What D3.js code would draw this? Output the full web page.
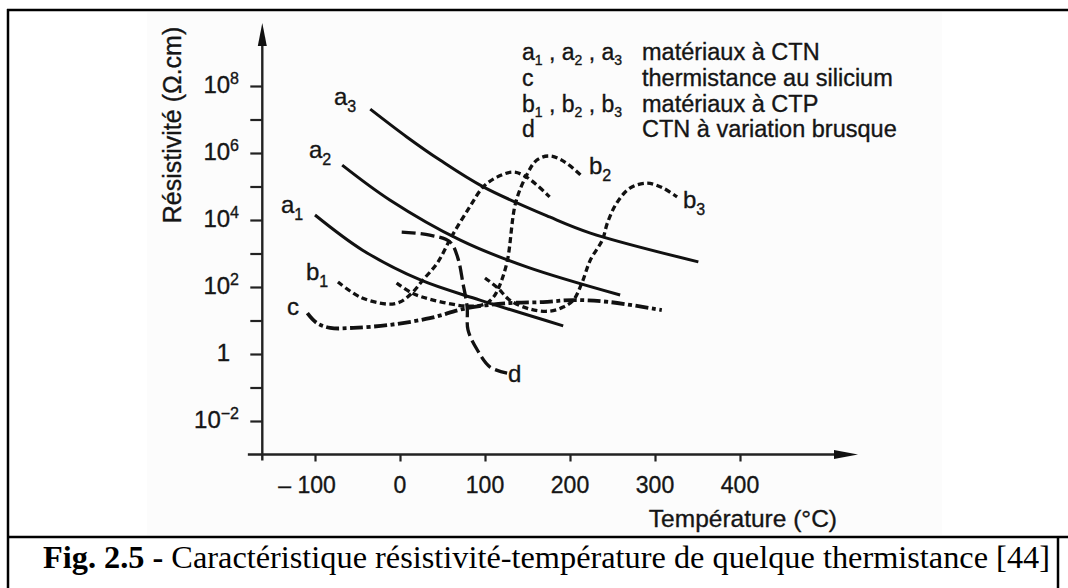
<!DOCTYPE html>
<html>
<head>
<meta charset="utf-8">
<script src="https://cdn.jsdelivr.net/npm/d3@7"></script>
<style>
  body { margin: 0; background: #fff; }
  svg { display: block; }
  .sans { font-family: "Liberation Sans", Arial, Helvetica, sans-serif; fill: #151515; stroke: #151515; stroke-width: 0.35px; }
</style>
</head>
<body>
<div class="chart"></div>
<script>
// ticks
var xTicks = [-100, 0, 100, 200, 300, 400];
var xTickLabels = ["\u2013 100", "0", "100", "200", "300", "400"];
var yDecades = [-2, -1, 0, 1, 2, 3, 4, 5, 6, 7, 8];
var yLabelled = [-2, 0, 2, 4, 6, 8];

// curves: temperature (°C) and log10 of resistivity (Ω.cm)
var tA1 = [-100, -44, 24, 94, 192];
var rA1 = [4.15, 3.10, 2.21, 1.61, 0.84];
var tA2 = [-68, -12, 71, 149, 259];
var rA2 = [5.64, 4.60, 3.40, 2.60, 1.76];
var tA3 = [-35, 8, 47, 98, 176, 224, 351];
var rA3 = [7.31, 6.48, 5.79, 4.99, 4.09, 3.61, 2.75];

var tB1 = [-73, -47, -15, 0, 14, 27, 44, 61, 82, 98, 114, 133, 149, 176];
var rB1 = [2.15, 1.70, 1.49, 1.55, 1.82, 2.21, 2.72, 3.52, 4.39, 4.99, 5.28, 5.43, 5.28, 4.69];
var tB2 = [-4, 14, 39, 79, 100, 110, 116, 126, 136, 149, 161, 176, 194, 215];
var rB2 = [2.12, 1.82, 1.61, 1.43, 1.49, 1.70, 1.97, 2.75, 4.51, 5.34, 5.79, 5.91, 5.73, 5.28];
var tB3 = [100, 115, 129, 153, 176, 192, 204, 214, 224, 238, 244, 255, 271, 291, 309, 326];
var rB3 = [2.27, 1.97, 1.61, 1.34, 1.28, 1.40, 1.61, 2.12, 2.81, 3.40, 3.91, 4.51, 4.96, 5.10, 4.96, 4.69];

var tC = [-109, -98, -82, -55, -12, 35, 79, 129, 168, 204, 247, 308];
var rC = [1.22, 0.93, 0.78, 0.78, 0.87, 1.07, 1.37, 1.52, 1.55, 1.61, 1.55, 1.31];
var tD = [2, 35, 59, 68, 74, 79, 80, 91, 106, 126];
var rD = [3.64, 3.55, 3.34, 2.87, 2.12, 1.40, 0.72, 0.12, -0.39, -0.57];

var width = 1068, height = 588;

var svg = d3.select("div.chart").append("svg")
    .attr("width", width)
    .attr("height", height);

// scanned picture background + table frame
svg.append("rect").attr("x", 147).attr("y", 12).attr("width", 795).attr("height", 523).attr("fill", "#fcfcfc");
svg.append("line").attr("x1", 7).attr("x2", 1068).attr("y1", 10).attr("y2", 10).attr("stroke", "#000").attr("stroke-width", 2.5);
svg.append("line").attr("x1", 8).attr("x2", 8).attr("y1", 9).attr("y2", 588).attr("stroke", "#000").attr("stroke-width", 2.5);
svg.append("line").attr("x1", 7).attr("x2", 1068).attr("y1", 537).attr("y2", 537).attr("stroke", "#000").attr("stroke-width", 2.5);
svg.append("line").attr("x1", 1058).attr("x2", 1058).attr("y1", 537).attr("y2", 588).attr("stroke", "#000").attr("stroke-width", 2.5);

// scales
var x = d3.scaleLinear().domain([-100, 400]).range([315, 740]);
var y = d3.scaleLog().domain([1e-2, 1e8]).range([421, 86]);

var axisX0 = x(-162), axisY0 = y(1e-3);

// y axis with ticks
var gy = svg.append("g")
    .attr("transform", "translate(" + axisX0 + ",0)")
    .call(d3.axisLeft(y).tickValues(yDecades.map(function (e) { return Math.pow(10, e); }))
        .tickSize(12).tickFormat(""));
gy.select(".domain").remove();
gy.selectAll(".tick line").attr("stroke", "#222").attr("stroke-width", 2.2);

// x axis with ticks
var gx = svg.append("g")
    .attr("transform", "translate(0," + axisY0 + ")")
    .call(d3.axisBottom(x).tickValues(xTicks).tickSize(7).tickFormat(""));
gx.select(".domain").remove();
gx.selectAll(".tick line").attr("stroke", "#222").attr("stroke-width", 2.2);

// axis lines with arrows
svg.append("line").attr("x1", axisX0).attr("x2", axisX0)
    .attr("y1", 40).attr("y2", axisY0 + 6)
    .attr("stroke", "#222").attr("stroke-width", 2.4);
svg.append("path")
    .attr("d", "M" + axisX0 + ",23 L" + (axisX0 - 4.5) + ",46 L" + (axisX0 + 4.5) + ",46 Z")
    .attr("fill", "#111");
svg.append("line").attr("x1", x(-179)).attr("x2", 840)
    .attr("y1", axisY0).attr("y2", axisY0)
    .attr("stroke", "#222").attr("stroke-width", 2.6);
svg.append("path")
    .attr("d", "M858," + axisY0 + " L834," + (axisY0 - 4.5) + " L834," + (axisY0 + 4.5) + " Z")
    .attr("fill", "#111");

// y tick labels (10 with exponent)
yLabelled.forEach(function (e) {
    var t = svg.append("text").attr("class", "sans")
        .attr("y", y(Math.pow(10, e)) + 7)
        .attr("text-anchor", "end")
        .style("font-size", "24px");
    if (e === 0) {
        t.attr("x", 230).text("1");
    } else {
        t.attr("x", 239);
        t.append("tspan").text("10");
        t.append("tspan").attr("dy", -9).style("font-size", "16px")
            .text(e < 0 ? "\u2212" + (-e) : e);
    }
});

// x tick labels
xTicks.forEach(function (v, i) {
    svg.append("text").attr("class", "sans")
        .attr("x", x(v) + (i === 0 ? -8 : 0))
        .attr("y", 493)
        .attr("text-anchor", "middle")
        .style("font-size", "23px")
        .text(xTickLabels[i]);
});

// axis titles
svg.append("text").attr("class", "sans")
    .attr("x", 837).attr("y", 527)
    .attr("text-anchor", "end")
    .style("font-size", "24.5px")
    .text("Température (°C)");
svg.append("text").attr("class", "sans")
    .attr("transform", "translate(181,125) rotate(-90)")
    .attr("text-anchor", "middle")
    .style("font-size", "25px")
    .text("Résistivité (Ω.cm)");

// curves
var line = d3.line()
    .x(function (d) { return x(d[0]); })
    .y(function (d) { return y(Math.pow(10, d[1])); })
    .curve(d3.curveCatmullRom.alpha(0.5));

function zipCurve(t, r) { return t.map(function (v, i) { return [v, r[i]]; }); }

var curves = [
    { t: tA1, r: rA1, dash: null, w: 3 },
    { t: tA2, r: rA2, dash: null, w: 3 },
    { t: tA3, r: rA3, dash: null, w: 3 },
    { t: tB1, r: rB1, dash: "6,3.5", w: 3.3 },
    { t: tB2, r: rB2, dash: "6,3.5", w: 3.3 },
    { t: tB3, r: rB3, dash: "6,3.5", w: 3.3 },
    { t: tC, r: rC, dash: "13,3.5,4,3.5", w: 3.8 },
    { t: tD, r: rD, dash: "14,5", w: 3.3 }
];

svg.selectAll("path.curve")
    .data(curves)
    .enter().append("path")
    .attr("class", "curve")
    .attr("d", function (d) { return line(zipCurve(d.t, d.r)); })
    .attr("fill", "none")
    .attr("stroke", "#111")
    .attr("stroke-width", function (d) { return d.w; })
    .attr("stroke-dasharray", function (d) { return d.dash; })
    .attr("stroke-linecap", "butt");

// curve labels
var curveLabels = [
    { base: "a", sub: "3", x: 334, y: 105 },
    { base: "a", sub: "2", x: 309, y: 158 },
    { base: "a", sub: "1", x: 281, y: 213 },
    { base: "b", sub: "1", x: 306, y: 280 },
    { base: "c", sub: "", x: 287, y: 315 },
    { base: "d", sub: "", x: 508, y: 382 },
    { base: "b", sub: "2", x: 589, y: 174 },
    { base: "b", sub: "3", x: 683, y: 208 }
];
curveLabels.forEach(function (l) {
    var t = svg.append("text").attr("class", "sans")
        .attr("x", l.x).attr("y", l.y)
        .style("font-size", "24px");
    t.append("tspan").text(l.base);
    if (l.sub) t.append("tspan").attr("dy", 7).style("font-size", "16px").text(l.sub);
});

// legend
var legendKeys = [
    [["a", "1"], ["a", "2"], ["a", "3"]],
    [["c", ""]],
    [["b", "1"], ["b", "2"], ["b", "3"]],
    [["d", ""]]
];
var legendText = ["matériaux à CTN", "thermistance au silicium", "matériaux à CTP", "CTN à variation brusque"];

legendKeys.forEach(function (keys, i) {
    var by = 60 + i * 25.8;
    var t = svg.append("text").attr("class", "sans")
        .attr("x", 522).attr("y", by)
        .style("font-size", "23px");
    keys.forEach(function (k, j) {
        t.append("tspan").attr("y", by).text((j > 0 ? " , " : "") + k[0]);
        if (k[1]) t.append("tspan").attr("y", by + 5).style("font-size", "14px").text(k[1]);
    });
    svg.append("text").attr("class", "sans")
        .attr("x", 642).attr("y", by)
        .style("font-size", "23.5px")
        .text(legendText[i]);
});

// caption
var cap = svg.append("text")
    .attr("x", 43).attr("y", 568)
    .style("font-family", "'Liberation Serif', 'Times New Roman', serif")
    .style("font-size", "31px")
    .attr("fill", "#000")
    .attr("textLength", 1007)
    .attr("lengthAdjust", "spacingAndGlyphs");
cap.append("tspan").style("font-weight", "bold").text("Fig. 2.5 -");
cap.append("tspan").text(" Caractéristique résistivité-température de quelque thermistance [44]");
</script>
</body>
</html>
